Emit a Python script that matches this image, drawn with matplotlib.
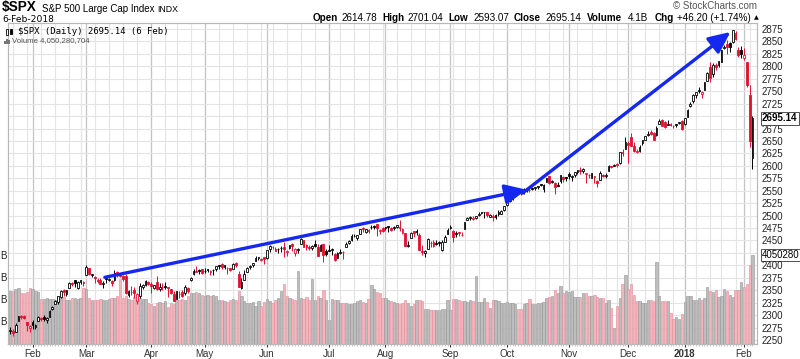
import matplotlib
matplotlib.use('Agg')
import matplotlib.pyplot as plt
import matplotlib.transforms as mtransforms
from matplotlib.patches import Rectangle
import numpy as np
import pandas as pd

# trading days 20-Jan-2017 .. 6-Feb-2018, NYSE holidays removed
holidays = ['2017-02-20', '2017-04-14', '2017-05-29', '2017-07-04', '2017-09-04',
            '2017-11-23', '2017-12-25', '2018-01-01', '2018-01-15']
dates = pd.bdate_range('2017-01-20', '2018-02-06')
dates = dates[~dates.isin(pd.to_datetime(holidays))]

opens = [
    2269, 2268, 2267, 2288, 2299, 2299, 2286, 2275,
    2286, 2276, 2289, 2294, 2296, 2290, 2296, 2313, 2322, 2327, 2336, 2350, 2343, 2355, 2363, 2370, 2355, 2366, 2367,
    2381, 2394, 2380, 2376, 2370, 2371, 2362, 2373, 2371, 2369, 2371, 2387, 2384, 2379, 2379, 2341, 2346, 2351, 2329, 2339, 2356, 2361, 2366,
    2362, 2355, 2366, 2353, 2356, 2358, 2356, 2352, 2342, 2333, 2343, 2347, 2344, 2355, 2370, 2382, 2388, 2390, 2393,
    2389, 2391, 2386, 2390, 2392, 2399, 2402, 2397, 2395, 2394, 2393, 2405, 2383, 2354, 2371, 2387, 2397, 2401, 2409, 2414, 2411, 2416,
    2415, 2432, 2437, 2432, 2432, 2434, 2437, 2426, 2435, 2443, 2424, 2431, 2442, 2450, 2440, 2437, 2434, 2443, 2437, 2429, 2442, 2429,
    2431, 2430, 2423, 2414, 2424, 2426, 2437, 2445, 2450, 2459, 2455, 2464, 2475, 2468, 2472, 2478, 2479, 2483, 2469, 2475,
    2477, 2479, 2476, 2476, 2478, 2478, 2466, 2465, 2439, 2455, 2469, 2469, 2462, 2428, 2425, 2433, 2444, 2447, 2445, 2447, 2431, 2447, 2463,
    2475, 2470, 2463, 2468, 2462, 2474, 2492, 2495, 2494, 2496, 2502, 2506, 2507, 2507, 2498, 2500, 2501, 2504, 2504, 2511,
    2521, 2530, 2534, 2540, 2547, 2551, 2549, 2551, 2552, 2556, 2555, 2557, 2563, 2553, 2568, 2579, 2568, 2566, 2560, 2570, 2578, 2577,
    2583, 2578, 2581, 2587, 2592, 2589, 2584, 2581, 2576, 2578, 2570, 2572, 2582, 2580, 2589, 2600, 2600, 2603, 2605, 2628, 2633,
    2645, 2657, 2640, 2627, 2629, 2646, 2652, 2662, 2667, 2665, 2661, 2685, 2692, 2688, 2683, 2685, 2680, 2683, 2686, 2690,
    2684, 2698, 2720, 2731, 2743, 2752, 2745, 2752, 2771, 2799, 2784, 2803, 2802, 2809, 2836, 2845, 2846, 2848, 2867, 2833, 2833,
    2817, 2808, 2742, 2615.78,
]
highs = [
    2277, 2273, 2284, 2299, 2301, 2300, 2286, 2280,
    2290, 2283, 2299, 2296, 2300, 2296, 2311, 2319, 2331, 2338, 2351, 2352, 2351, 2366, 2366, 2371, 2368, 2371, 2368,
    2401, 2394, 2383, 2378, 2375, 2374, 2369, 2377, 2374, 2370, 2391, 2388, 2385, 2380, 2382, 2351, 2359, 2357, 2344, 2364, 2363, 2370, 2368,
    2366, 2361, 2378, 2364, 2365, 2367, 2356, 2353, 2348, 2349, 2349, 2350, 2361, 2356, 2377, 2392, 2398, 2392, 2393,
    2394, 2392, 2390, 2392, 2399, 2401, 2404, 2400, 2396, 2395, 2404, 2406, 2389, 2375, 2390, 2396, 2400, 2405, 2418, 2416, 2415, 2416,
    2430, 2440, 2439, 2436, 2435, 2439, 2446, 2430, 2441, 2444, 2434, 2434, 2454, 2451, 2442, 2441, 2441, 2450, 2442, 2443, 2442, 2433,
    2440, 2435, 2424, 2427, 2432, 2429, 2446, 2450, 2464, 2463, 2461, 2474, 2477, 2473, 2474, 2481, 2481, 2484, 2474, 2477,
    2478, 2480, 2477, 2480, 2481, 2491, 2475, 2465, 2448, 2468, 2469, 2474, 2465, 2440, 2430, 2454, 2448, 2450, 2451, 2449, 2450, 2461, 2475,
    2481, 2471, 2469, 2468, 2467, 2488, 2497, 2499, 2499, 2500, 2508, 2507, 2508, 2507, 2503, 2503, 2504, 2511, 2511, 2520,
    2529, 2535, 2540, 2552, 2550, 2551, 2555, 2555, 2555, 2557, 2558, 2560, 2563, 2563, 2575, 2579, 2572, 2567, 2567, 2582, 2580, 2578,
    2588, 2582, 2588, 2592, 2597, 2595, 2586, 2583, 2586, 2580, 2572, 2590, 2583, 2585, 2601, 2600, 2604, 2606, 2628, 2634, 2657,
    2650, 2666, 2648, 2634, 2641, 2652, 2660, 2669, 2671, 2668, 2680, 2695, 2694, 2691, 2693, 2686, 2682, 2685, 2688, 2692,
    2696, 2714, 2729, 2744, 2748, 2759, 2751, 2768, 2788, 2808, 2807, 2806, 2810, 2833, 2843, 2853, 2849, 2873, 2870, 2838, 2840,
    2836, 2808, 2763, 2701.04,
]
lows = [
    2263, 2258, 2266, 2288, 2293, 2292, 2268, 2267,
    2273, 2272, 2289, 2288, 2289, 2285, 2296, 2311, 2322, 2322, 2335, 2339, 2339, 2355, 2358, 2356, 2353, 2362, 2358,
    2381, 2380, 2376, 2364, 2365, 2362, 2355, 2365, 2368, 2359, 2368, 2377, 2377, 2368, 2342, 2337, 2341, 2334, 2322, 2335, 2353, 2358, 2360,
    2345, 2353, 2351, 2349, 2351, 2352, 2337, 2343, 2329, 2333, 2335, 2336, 2341, 2345, 2369, 2381, 2386, 2382, 2383,
    2385, 2386, 2380, 2381, 2389, 2393, 2393, 2393, 2382, 2388, 2393, 2396, 2357, 2352, 2371, 2387, 2393, 2397, 2408, 2411, 2409, 2403,
    2413, 2427, 2433, 2428, 2425, 2427, 2416, 2419, 2432, 2429, 2418, 2424, 2442, 2437, 2431, 2430, 2431, 2437, 2419, 2429, 2406, 2418,
    2429, 2421, 2408, 2414, 2422, 2412, 2437, 2442, 2449, 2456, 2451, 2464, 2468, 2465, 2466, 2474, 2474, 2460, 2464, 2468,
    2471, 2467, 2469, 2471, 2475, 2470, 2464, 2438, 2437, 2455, 2458, 2462, 2430, 2421, 2417, 2433, 2437, 2437, 2441, 2439, 2428, 2447, 2463,
    2474, 2447, 2457, 2460, 2460, 2474, 2491, 2492, 2491, 2493, 2499, 2503, 2496, 2497, 2497, 2489, 2493, 2499, 2503, 2509,
    2520, 2528, 2532, 2539, 2544, 2542, 2544, 2547, 2548, 2552, 2552, 2554, 2559, 2548, 2567, 2564, 2565, 2544, 2559, 2566, 2568, 2570,
    2574, 2569, 2577, 2584, 2584, 2585, 2566, 2576, 2576, 2566, 2557, 2572, 2577, 2576, 2589, 2595, 2599, 2598, 2604, 2620, 2633,
    2606, 2639, 2627, 2625, 2628, 2642, 2651, 2660, 2662, 2652, 2660, 2684, 2680, 2676, 2682, 2681, 2677, 2679, 2684, 2673,
    2683, 2698, 2719, 2727, 2737, 2747, 2736, 2752, 2770, 2769, 2778, 2792, 2799, 2808, 2834, 2825, 2828, 2847, 2852, 2819, 2816,
    2812, 2759, 2638, 2593.07,
]
closes = [
    2271, 2265, 2280, 2298, 2297, 2295, 2281, 2279,
    2280, 2281, 2297, 2293, 2293, 2295, 2308, 2316, 2328, 2338, 2349, 2347, 2351, 2365, 2363, 2364, 2367, 2370, 2364,
    2396, 2382, 2383, 2375, 2368, 2363, 2365, 2373, 2373, 2365, 2385, 2381, 2378, 2373, 2344, 2348, 2346, 2344, 2342, 2359, 2361, 2368, 2363,
    2359, 2360, 2353, 2357, 2356, 2357, 2354, 2345, 2329, 2349, 2342, 2338, 2356, 2349, 2374, 2389, 2387, 2389, 2384,
    2388, 2391, 2388, 2390, 2399, 2399, 2397, 2400, 2394, 2391, 2402, 2401, 2357, 2366, 2382, 2394, 2398, 2404, 2415, 2416, 2413, 2412,
    2430, 2439, 2436, 2429, 2433, 2434, 2432, 2429, 2440, 2438, 2432, 2433, 2453, 2437, 2436, 2435, 2438, 2439, 2419, 2441, 2420, 2423,
    2429, 2433, 2410, 2425, 2427, 2426, 2443, 2448, 2459, 2459, 2461, 2474, 2473, 2473, 2470, 2477, 2478, 2475, 2472, 2470,
    2476, 2478, 2472, 2477, 2481, 2475, 2474, 2438, 2441, 2466, 2465, 2468, 2430, 2426, 2428, 2453, 2444, 2439, 2443, 2444, 2446, 2458, 2472,
    2477, 2458, 2466, 2465, 2461, 2488, 2496, 2498, 2496, 2500, 2504, 2507, 2508, 2501, 2502, 2497, 2497, 2507, 2510, 2519,
    2529, 2535, 2538, 2552, 2549, 2545, 2551, 2555, 2551, 2553, 2558, 2559, 2561, 2562, 2575, 2565, 2569, 2557, 2560, 2581, 2573, 2575,
    2579, 2580, 2588, 2591, 2590.6, 2594, 2585, 2582, 2585, 2579, 2565, 2586, 2579, 2582, 2599, 2597, 2602, 2601, 2627, 2626, 2648,
    2642, 2639, 2630, 2629, 2637, 2652, 2660, 2664, 2663, 2652, 2676, 2690, 2681, 2679, 2685, 2683, 2681, 2683, 2688, 2674,
    2696, 2713, 2724, 2743, 2748, 2751, 2748, 2768, 2786, 2776, 2803, 2798, 2810, 2833, 2839, 2838, 2839, 2873, 2854, 2822, 2824,
    2822, 2762, 2649, 2695.14,
]
volume_b = [
    2.4, 2.4, 2.5, 2.55, 2.3, 2.3, 2.35, 2.55,
    2.5, 2.4, 2.35, 2.05, 2.05, 2.1, 2.05, 2.05, 2.0, 2.05, 2.1, 2.15, 2.0, 2.0, 2.1, 2.1, 2.05, 2.1, 2.55,
    2.5, 2.1, 2.0, 2.0, 2.0, 2.05, 2.0, 2.0, 2.05, 2.1, 2.1, 2.2, 2.95, 2.1, 2.2, 2.05, 2.0, 2.15, 2.05, 2.1, 2.05, 2.05, 1.85,
    1.8, 1.75, 1.85, 1.9, 1.85, 1.95, 1.7, 1.85, 1.8, 2.0, 2.0, 2.05, 2.0, 2.2, 2.3, 2.3, 2.35, 2.3, 2.25,
    2.2, 2.25, 2.2, 2.25, 2.2, 2.0, 2.0, 1.95, 1.9, 2.0, 2.05, 2.0, 2.4, 2.2, 1.95, 1.85, 1.85, 1.9, 1.75, 1.95, 1.75, 1.9,
    2.05, 1.95, 1.85, 2.0, 2.1, 2.4, 2.75, 2.2, 2.1, 2.05, 2.0, 3.3, 2.1, 2.05, 2.15, 2.0, 2.95, 2.0, 2.2, 2.1, 2.45, 2.0,
    1.1, 2.05, 2.0, 2.0, 1.85, 1.85, 1.85, 1.8, 1.8, 1.85, 1.95, 2.0, 1.9, 1.85, 2.05, 2.7, 2.5, 2.35, 2.3, 2.1,
    2.1, 2.0, 1.95, 1.9, 1.85, 1.8, 1.85, 2.0, 1.85, 1.75, 1.8, 2.0, 2.0, 1.95, 1.6, 1.6, 1.55, 1.55, 1.55, 1.55, 1.6, 1.6, 2.0,
    1.55, 2.05, 2.05, 2.0, 1.95, 1.95, 1.9, 2.0, 1.95, 3.1, 1.9, 1.9, 2.1, 1.9, 1.65, 2.0, 2.0, 1.95, 1.85, 1.85,
    1.9, 1.85, 1.85, 1.8, 1.6, 1.6, 1.8, 1.85, 2.05, 1.8, 1.8, 1.85, 1.85, 1.9, 2.1, 2.15, 2.2, 2.45, 2.3, 2.65, 2.3, 2.4,
    2.35, 2.4, 2.15, 2.15, 2.15, 2.3, 2.3, 2.2, 2.2, 2.25, 2.15, 2.1, 2.1, 1.85, 2.0, 1.65, 0.75, 1.75, 2.1, 2.75, 3.15,
    2.5, 2.75, 2.25, 1.95, 1.95, 1.85, 1.85, 2.0, 2.0, 1.95, 3.75, 2.2, 1.95, 1.95, 1.95, 1.4, 1.15, 1.25, 1.15, 1.35,
    1.9, 2.2, 2.2, 2.0, 2.0, 2.1, 2.0, 2.1, 2.6, 2.4, 2.35, 2.45, 2.15, 2.2, 2.5, 2.4, 2.25, 2.15, 2.45, 2.45, 2.8,
    2.6, 2.75, 3.6, 4.05,
]

# blue trend arrows (day index, price)
arrow1 = ((33.6, 2376), (183.0, 2552))
arrow2 = ((181.5, 2545), (255.2, 2869))

n = len(dates)
assert len(opens) == n and len(highs) == n and len(lows) == n and len(closes) == n and len(volume_b) == n

RED = '#e3102f'
plt.rcParams['font.family'] = ['Liberation Sans', 'DejaVu Sans']

fig = plt.figure(figsize=(8, 3.59), dpi=100)
fig.patch.set_facecolor('white')
ax = fig.add_axes([8 / 800, 15 / 359, 749 / 800, 321 / 359])   # volume, bottom layer
axp = ax.twinx()                                                  # price, top layer

x = np.arange(n)
o = np.array(opens, float)
h = np.array(highs, float)
l = np.array(lows, float)
c = np.array(closes, float)
vol = np.array(volume_b) * 1e9
prev = np.r_[c[0] - 1, c[:-1]]
down = c < prev

# grid: weekly light, monthly darker, price levels every 25
month_start = [i for i in range(1, n) if dates[i].month != dates[i - 1].month]
week_start = [i for i in range(1, n) if dates[i].weekday() < dates[i - 1].weekday()]
for i in week_start:
    ax.axvline(i, color='#e4e4e4', lw=0.8, zorder=0)
for i in month_start:
    ax.axvline(i, color='#c4c4c4', lw=0.9, zorder=0)
price_levels = np.arange(2250, 2876, 25)
trans_h = mtransforms.blended_transform_factory(ax.transAxes, axp.transData)
ax.hlines(price_levels, 0, 1, transform=trans_h, color='#e4e4e4', lw=0.8, zorder=0)

# volume bars
vcol = np.where(down, '#f4b5bd', '#bdbdbd')
vedge = np.where(down, '#e58896', '#959595')
ax.bar(x, vol, width=0.82, color=vcol, edgecolor=vedge, linewidth=0.4, zorder=1)
ax.set_ylim(0, 14.6e9)
ax.set_xlim(-0.71, 264.6)

# candles
ccol = np.where(down, RED, 'black')
axp.vlines(x, l, h, colors=ccol, lw=0.7, zorder=2)
body_lo = np.minimum(o, c)
body_h = np.maximum(np.abs(c - o), 0.8)
face = np.where(c > o, 'white', ccol)
axp.bar(x, body_h, bottom=body_lo, width=0.62, color=face, edgecolor=ccol, linewidth=0.6, zorder=3)
axp.set_ylim(2242, 2887)

# arrows
for (x0, y0), (x1, y1) in (arrow1, arrow2):
    axp.annotate('', xy=(x1, y1), xytext=(x0, y0), zorder=5,
                 arrowprops=dict(arrowstyle='-|>,head_length=0.65,head_width=0.3', color='#1428f0',
                                 lw=2.4, shrinkA=0, shrinkB=0, mutation_scale=20))

# axes styling
for a in (ax, axp):
    for s in a.spines.values():
        s.set_color('#b8b8b8')
        s.set_linewidth(0.8)
# 2700 and 2425 sit under the last-value tags, as in the original
axp.set_yticks(price_levels)
axp.set_yticklabels(['' if p in (2700, 2425) else str(p) for p in price_levels])
axp.tick_params(axis='y', length=0, pad=3, labelsize=7, labelcolor='#222222')
ax.set_yticks([])
ax.set_xticks(month_start)
labels = ['2018' if dates[i].month == 1 else dates[i].strftime('%b') for i in month_start]
ax.set_xticklabels(labels)
for t, i in zip(ax.get_xticklabels(), month_start):
    if dates[i].month == 1:
        t.set_fontweight('bold')
ax.set_xticks(x, minor=True)
ax.tick_params(axis='x', which='major', length=2, pad=1.5, labelsize=7, colors='#333333')
ax.tick_params(axis='x', which='minor', length=1.2, color='#bbbbbb')

# volume scale labels (cut at the left edge)
tb = mtransforms.blended_transform_factory(fig.transFigure, ax.transData)
for v in (1e9, 2e9, 3e9, 4e9):
    fig.text(0.0, v, 'B', transform=tb, fontsize=7, va='center', ha='left', color='#222222')

# last value tags
tp = mtransforms.blended_transform_factory(axp.transAxes, axp.transData)
axp.text(1 + 5 / 749, closes[-1], '2695.14', transform=tp, fontsize=7, fontweight='bold',
         va='center', ha='left', clip_on=False,
         bbox=dict(boxstyle='square,pad=0.12', fc='white', ec='#333333', lw=0.6))
tv = mtransforms.blended_transform_factory(ax.transAxes, ax.transData)
ax.text(1 + 5 / 749, vol[-1], '4050280', transform=tv, fontsize=7, va='center', ha='left',
        clip_on=False, bbox=dict(boxstyle='square,pad=0.12', fc='white', ec='#333333', lw=0.6))


def fx(px):
    return px / 800


def fy(py):
    return 1 - py / 359


# header
fig.text(fx(2), fy(11.5), '$SPX', fontsize=9.8, fontweight='bold', va='baseline')
fig.text(fx(42), fy(9), 'S&P 500 Large Cap Index', fontsize=7, va='center')
fig.text(fx(157), fy(9), 'INDX', fontsize=6.3, va='center')
fig.text(fx(2), fy(19), '6-Feb-2018', fontsize=6.6, va='center', family='DejaVu Sans')
fig.text(fx(757), fy(6), '\u00a9 StockCharts.com', fontsize=7, va='center', ha='right', color='#555555')

head = [(313, 'Open', True), (342, '2614.78', False), (382, 'High', True), (407, '2701.04', False),
        (448, 'Low', True), (473, '2593.07', False), (514, 'Close', True), (546, '2695.14', False),
        (587, 'Volume', True), (628, '4.1B', False), (655, 'Chg', True), (677, '+46.20 (+1.74%)', False)]
for px, s, bold in head:
    fig.text(fx(px), fy(18), s, fontsize=7.1, va='center', fontweight='bold' if bold else 'normal')
fig.text(fx(754), fy(18), '\u25b2', fontsize=4.5, va='center', family='DejaVu Sans')

# legend inside plot, with small candle / volume icons
fig.add_artist(Rectangle((fx(6), fy(35)), 2 / 800, 6 / 359, fc='white', ec='black', lw=0.6))
fig.add_artist(Rectangle((fx(10), fy(34)), 2 / 800, 5 / 359, fc='black', ec='black', lw=0.6))
for k, hgt in enumerate((3, 5, 4)):
    fig.add_artist(Rectangle((fx(4 + 2.2 * k), fy(44)), 1.6 / 800, hgt / 359, fc='#777777', lw=0))
fig.text(fx(18), fy(32), '$SPX (Daily) 2695.14 (6 Feb)', fontsize=6.5, va='center', family='DejaVu Sans Mono')
fig.text(fx(12), fy(41), 'Volume 4,050,280,704', fontsize=5.6, va='center', color='#555555')

fig.savefig('out.png', dpi=100, facecolor='white')
